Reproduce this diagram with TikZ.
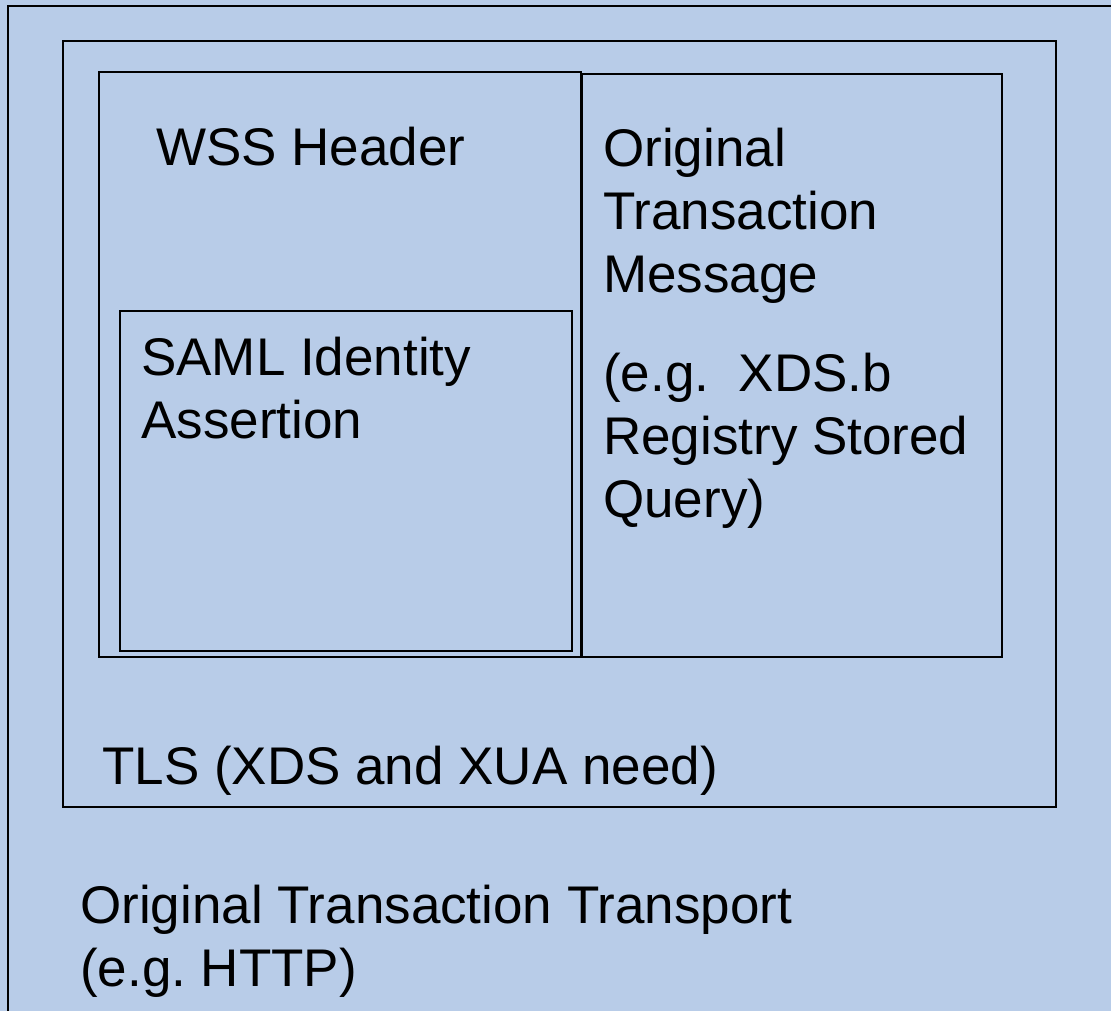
\documentclass[tikz,border=0pt]{standalone}
\usepackage{fontspec}
\setmainfont{Liberation Sans}
\definecolor{bgblue}{RGB}{184,204,232}
\begin{document}
\frenchspacing
\begin{tikzpicture}[x=1pt,y=-1pt,
  box/.style={draw=black,line width=2pt},
  lbl/.style={anchor=base west,inner sep=0pt,align=left,
    font=\fontsize{53}{63}\selectfont}]
\useasboundingbox (0,0) rectangle (1111,1011);
\clip (0,0) rectangle (1111,1011);
\fill[bgblue] (0,0) rectangle (1111,1011);
% outer transport box (runs past the right and bottom edges)
\draw[box] (8,6) rectangle (1130,1030);
% TLS box
\draw[box] (62.5,41.5) rectangle (1056,806.5);
% WSS header box
\draw[box] (99,72.5) rectangle (580.5,657);
% original transaction message box
\draw[box] (582,74) rectangle (1002,657);
% SAML assertion box
\draw[box] (120,311) rectangle (572,651);
% texts (a multi-line node's base anchor sits on its last line)
\node[lbl] (wss) at (156,166) {WSS Header};
\node[lbl] (msg) at (603,292) {Original\\Transaction\\Message};
\node[lbl] (eg) at (603,517) {(e.g.\ \ XDS.b\\Registry Stored\\Query)};
\node[lbl] (saml) at (141,438) {SAML Identity\\Assertion};
\node[lbl] (tls) at (102,784) {TLS (XDS and XUA need)};
\node[lbl] (trans) at (80,986) {Original Transaction Transport\\(e.g. HTTP)};
\end{tikzpicture}
\end{document}
